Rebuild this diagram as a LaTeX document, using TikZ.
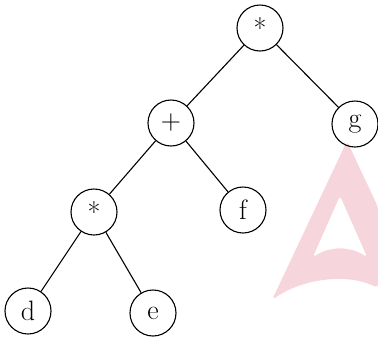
\documentclass[tikz,border=0pt]{standalone}
\begin{document}
\begin{tikzpicture}[x=1pt,y=-1pt,
  tn/.style={circle,draw,line width=1.1pt,minimum size=46pt,inner sep=0pt,font=\fontsize{28}{32}\selectfont},
  ed/.style={line width=1.1pt}]
\useasboundingbox (0,0) rectangle (378,341);
\definecolor{wm}{RGB}{246,214,220}
% watermark
\fill[wm,rounded corners=4pt] (347,141) -- (378,207) -- (378,288) .. controls (345,272) and (300,280) .. (272,300) -- cycle;
\fill[white,rounded corners=3pt] (340,196) -- (367,257) .. controls (350,246) and (330,246) .. (313,257) -- cycle;
\node[tn] (r) at (260,28) {*};
\node[tn] (p) at (171,123) {+};
\node[tn] (g) at (355,124) {g};
\node[tn] (m) at (94,212) {*};
\node[tn] (f) at (243,210) {f};
\node[tn] (d) at (28,311) {d};
\node[tn] (e) at (153,313) {e};
\draw[ed] (r) -- (p);
\draw[ed] (r) -- (g);
\draw[ed] (p) -- (m);
\draw[ed] (p) -- (f);
\draw[ed] (m) -- (d);
\draw[ed] (m) -- (e);
\end{tikzpicture}
\end{document}
